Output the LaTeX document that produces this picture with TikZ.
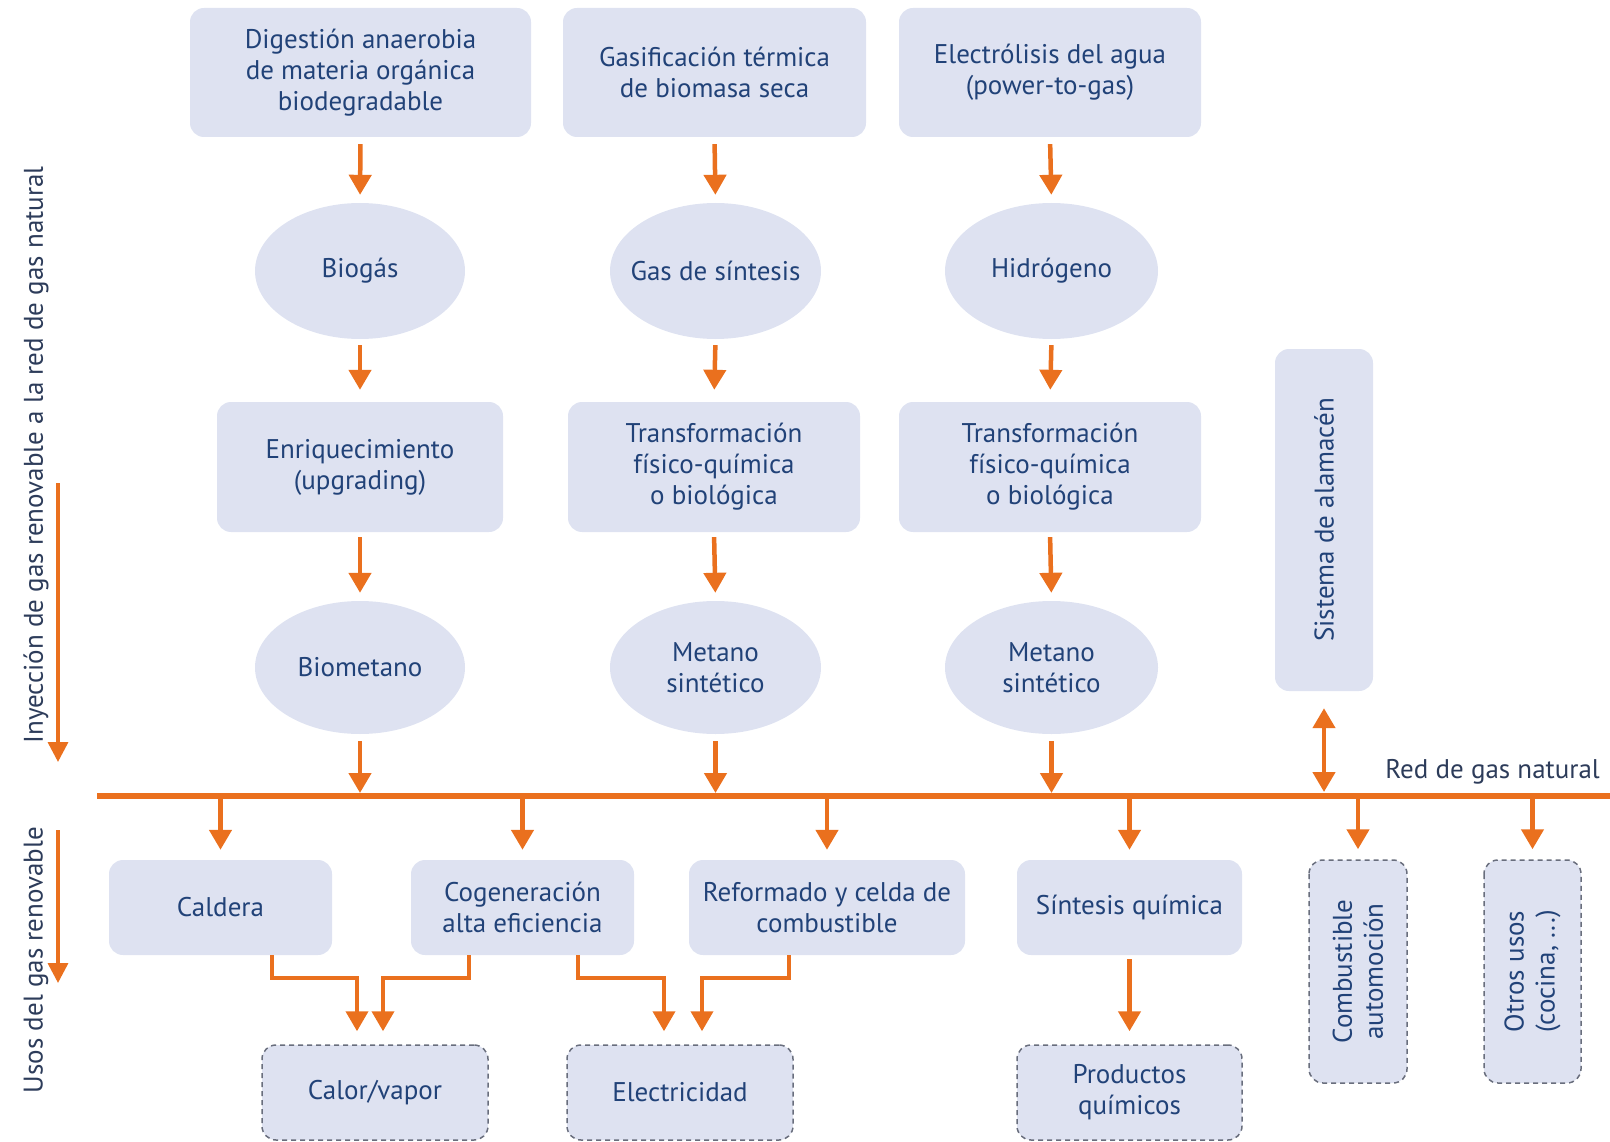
\documentclass[tikz,border=0pt]{standalone}
\usepackage{fontspec}
\setmainfont{PT Sans}
\usetikzlibrary{arrows.meta,shapes.geometric}
\definecolor{boxfill}{RGB}{222,226,241}
\definecolor{txt}{RGB}{33,66,120}
\definecolor{org}{RGB}{234,112,30}
\definecolor{dashc}{RGB}{105,110,125}
\definecolor{sidec}{RGB}{45,60,90}
\begin{document}
\begin{tikzpicture}[x=1pt,y=-1pt,
  every node/.style={font=\fontsize{27}{31}\selectfont, text=txt, align=center, inner sep=0pt},
  rbox/.style={rectangle, fill=boxfill, rounded corners=14pt},
  obox/.style={ellipse, fill=boxfill},
  dbox/.style={rbox, draw=dashc, line width=1.5pt, dash pattern=on 5pt off 4pt},
  arr/.style={draw=org, line width=4.5pt, -{Triangle[length=20pt,width=22pt]}},
  darr/.style={draw=org, line width=4.5pt, {Triangle[length=20pt,width=22pt]}-{Triangle[length=20pt,width=22pt]}},
  side/.style={draw=org, line width=3.5pt, -{Triangle[length=20pt,width=20pt]}},
  sidelab/.style={rotate=90, text=sidec},
]
\useasboundingbox (0,0) rectangle (1610,1142);
% top row
\node[rbox, minimum width=341pt, minimum height=129pt] (d1) at (360.5,72.5) {Digestión anaerobia\\de materia orgánica\\biodegradable};
\node[rbox, minimum width=303pt, minimum height=129pt] (d2) at (714.5,72.5) {Gasificación térmica\\de biomasa seca};
\node[rbox, minimum width=302pt, minimum height=129pt] (d3) at (1050,72.5) {Electrólisis del agua\\(power-to-gas)};
% ellipses
\node[obox, minimum width=210pt, minimum height=136pt] (e1) at (360,271) {Biogás};
\node[obox, inner xsep=-16pt, minimum width=211pt, minimum height=136pt] (e2) at (715.5,271) {Gas de síntesis};
\node[obox, minimum width=213pt, minimum height=136pt] (e3) at (1051.5,271) {Hidrógeno};
% row 3
\node[rbox, minimum width=286pt, minimum height=130pt] (r1) at (360,467) {Enriquecimiento\\(upgrading)};
\node[rbox, minimum width=292pt, minimum height=130pt] (r2) at (714,467) {Transformación\\físico-química\\o biológica};
\node[rbox, minimum width=302pt, minimum height=130pt] (r3) at (1050,467) {Transformación\\físico-química\\o biológica};
% row 4
\node[obox, minimum width=210pt, minimum height=133pt] (m1) at (360,667.5) {Biometano};
\node[obox, minimum width=211pt, minimum height=133pt] (m2) at (715.5,667.5) {Metano\\sintético};
\node[obox, minimum width=213pt, minimum height=133pt] (m3) at (1051.5,667.5) {Metano\\sintético};
% storage
\node[rbox, rotate=90, minimum width=342pt, minimum height=98pt] (sa) at (1324,520) {Sistema de alamacén};
% network
\coordinate (netL) at (97,796);
\coordinate (netR) at (1610,796);
\draw[org, line width=6pt] (netL) -- (netR);
\node[anchor=east, text=sidec] (red) at (1600,772) {Red de gas natural};
% bottom row
\node[rbox, minimum width=223pt, minimum height=95pt] (cal) at (220.5,907.5) {Caldera};
\node[rbox, minimum width=223pt, minimum height=95pt] (cog) at (522.5,907.5) {Cogeneración\\alta eficiencia};
\node[rbox, minimum width=276pt, minimum height=95pt] (ref) at (827,907.5) {Reformado y celda de\\combustible};
\node[rbox, minimum width=225pt, minimum height=95pt] (sin) at (1129.5,907.5) {Síntesis química};
\node[dbox, rotate=90, minimum width=223pt, minimum height=98pt] (com) at (1358,971.5) {Combustible\\automoción};
\node[dbox, rotate=90, minimum width=223pt, minimum height=97pt] (otr) at (1532.5,971.5) {Otros usos\\(cocina, ...)};
% final products
\node[dbox, minimum width=226pt, minimum height=95pt] (calv) at (375,1092.5) {Calor/vapor};
\node[dbox, minimum width=226pt, minimum height=95pt] (ele) at (680,1092.5) {Electricidad};
\node[dbox, minimum width=225pt, minimum height=95pt] (pro) at (1129.5,1092.5) {Productos\\químicos};
% side labels
\node[sidelab] (lab1) at (36,455) {Inyección de gas renovable a la red de gas natural};
\coordinate (ia) at (58,483);
\coordinate (ib) at (58,762);
\draw[side] (ia) -- (ib);
\node[sidelab] (lab2) at (36,960) {Usos del gas renovable};
\coordinate (ua) at (58,830);
\coordinate (ub) at (58,983);
\draw[side] (ua) -- (ub);
% vertical arrows
\foreach \a/\b in {d1/e1,d2/e2,d3/e3}
  \draw[arr, shorten <=7pt, shorten >=8pt] (\a.south) -- (\b.north);
\foreach \a/\b in {e1/r1,e2/r2,e3/r3}
  \draw[arr, shorten <=6pt, shorten >=12pt] (\a.south) -- (\b.north);
\foreach \a/\b in {r1/m1,r2/m2,r3/m3}
  \draw[arr, shorten <=5pt, shorten >=8pt] (\a.south) -- (\b.north);
\foreach \a in {m1,m2,m3}
  \draw[arr, shorten <=7pt, shorten >=3pt] (\a.south) -- (\a.south |- netL);
\draw[darr, shorten <=17pt, shorten >=4pt] (sa.west) -- (sa.west |- netL);
% from network
\foreach \a in {cal,cog,ref,sin}
  \draw[arr, shorten >=10pt] (\a.north |- netL) -- (\a.north);
\foreach \a in {com,otr}
  \draw[arr, shorten >=10pt] (\a.east |- netL) -- (\a.east);
% elbows
\draw[arr, line width=4pt, shorten >=13pt] ([xshift=51.5pt]cal.south) -- ++(0,23) -| ([xshift=-18pt]calv.north);
\draw[arr, line width=4pt, shorten >=13pt] ([xshift=-53.5pt]cog.south) -- ++(0,23) -| ([xshift=8pt]calv.north);
\draw[arr, line width=4pt, shorten >=13pt] ([xshift=55.5pt]cog.south) -- ++(0,23) -| ([xshift=-16pt]ele.north);
\draw[arr, line width=4pt, shorten >=13pt] ([xshift=-38pt]ref.south) -- ++(0,23) -| ([xshift=22pt]ele.north);
\draw[arr, shorten <=4pt, shorten >=13pt] (sin.south) -- (pro.north);
\end{tikzpicture}
\end{document}
